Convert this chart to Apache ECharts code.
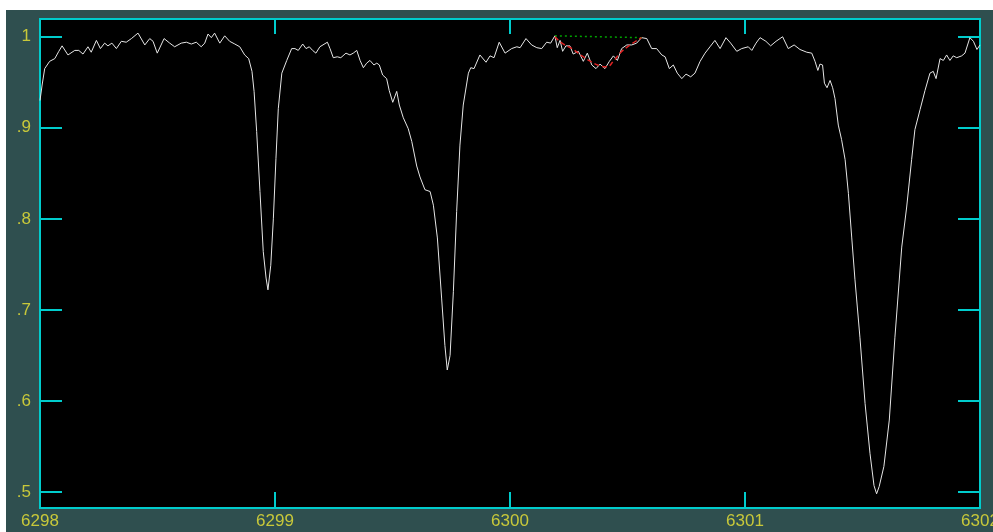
<!DOCTYPE html>
<html>
<head>
<meta charset="utf-8">
<script src="https://cdn.jsdelivr.net/npm/echarts@6/dist/echarts.min.js"></script>
<style>
  html, body { margin: 0; padding: 0; background: #ffffff; overflow: hidden; }
  #chart { position: absolute; left: 6px; top: 10px; width: 987px; height: 522px; }
</style>
</head>
<body>
<div id="chart"></div>
<script>
// spectrum (wavelength in A, normalised flux)
var wavelength = [
  6298.000, 6298.009, 6298.020, 6298.041, 6298.063, 6298.080, 6298.094, 6298.119, 6298.148, 6298.165,
  6298.183, 6298.204, 6298.218, 6298.240, 6298.257, 6298.275, 6298.289, 6298.306, 6298.325, 6298.346,
  6298.367, 6298.389, 6298.417, 6298.446, 6298.467, 6298.481, 6298.499, 6298.528, 6298.552, 6298.573,
  6298.601, 6298.623, 6298.644, 6298.665, 6298.686, 6298.701, 6298.715, 6298.729, 6298.743, 6298.765,
  6298.786, 6298.807, 6298.829, 6298.850, 6298.871, 6298.888, 6298.902, 6298.911, 6298.922, 6298.936,
  6298.950, 6298.962, 6298.970, 6298.982, 6298.993, 6299.004, 6299.014, 6299.029, 6299.050, 6299.071,
  6299.085, 6299.099, 6299.118, 6299.132, 6299.146, 6299.160, 6299.174, 6299.191, 6299.223, 6299.234,
  6299.248, 6299.265, 6299.280, 6299.302, 6299.319, 6299.333, 6299.348, 6299.362, 6299.376, 6299.390,
  6299.404, 6299.421, 6299.433, 6299.444, 6299.458, 6299.475, 6299.486, 6299.501, 6299.518, 6299.529,
  6299.546, 6299.567, 6299.582, 6299.603, 6299.617, 6299.638, 6299.660, 6299.674, 6299.691, 6299.709,
  6299.723, 6299.733, 6299.745, 6299.759, 6299.773, 6299.787, 6299.801, 6299.823, 6299.833, 6299.847,
  6299.872, 6299.898, 6299.915, 6299.932, 6299.954, 6299.979, 6300.007, 6300.029, 6300.043, 6300.068,
  6300.092, 6300.114, 6300.135, 6300.156, 6300.173, 6300.191, 6300.201, 6300.213, 6300.224, 6300.238,
  6300.255, 6300.269, 6300.291, 6300.312, 6300.329, 6300.348, 6300.366, 6300.383, 6300.404, 6300.423,
  6300.440, 6300.457, 6300.475, 6300.497, 6300.518, 6300.539, 6300.560, 6300.582, 6300.603, 6300.624,
  6300.646, 6300.660, 6300.678, 6300.695, 6300.712, 6300.731, 6300.749, 6300.769, 6300.787, 6300.809,
  6300.830, 6300.851, 6300.872, 6300.894, 6300.919, 6300.939, 6300.965, 6300.986, 6301.014, 6301.029,
  6301.047, 6301.064, 6301.089, 6301.109, 6301.132, 6301.160, 6301.184, 6301.209, 6301.234, 6301.263,
  6301.284, 6301.298, 6301.310, 6301.319, 6301.330, 6301.338, 6301.349, 6301.362, 6301.373, 6301.383,
  6301.397, 6301.411, 6301.426, 6301.440, 6301.454, 6301.468, 6301.489, 6301.511, 6301.532, 6301.549,
  6301.560, 6301.571, 6301.591, 6301.614, 6301.638, 6301.667, 6301.688, 6301.709, 6301.723, 6301.745,
  6301.766, 6301.787, 6301.801, 6301.813, 6301.830, 6301.844, 6301.858, 6301.872, 6301.886, 6301.901,
  6301.922, 6301.936, 6301.957, 6301.972, 6301.987, 6302.000
];
var flux = [
  0.930, 0.947, 0.965, 0.973, 0.976, 0.984, 0.990, 0.980, 0.985, 0.985,
  0.981, 0.989, 0.983, 0.996, 0.987, 0.993, 0.990, 0.993, 0.987, 0.995,
  0.994, 0.998, 1.004, 0.991, 0.998, 0.995, 0.982, 0.998, 0.993, 0.989,
  0.993, 0.994, 0.992, 0.994, 0.989, 0.993, 1.003, 0.999, 1.004, 0.993,
  1.001, 0.995, 0.992, 0.989, 0.980, 0.976, 0.962, 0.940, 0.896, 0.830,
  0.764, 0.735, 0.722, 0.749, 0.800, 0.866, 0.921, 0.960, 0.974, 0.987,
  0.987, 0.985, 0.992, 0.987, 0.989, 0.985, 0.982, 0.989, 0.994, 0.987,
  0.977, 0.978, 0.977, 0.982, 0.980, 0.982, 0.985, 0.974, 0.966, 0.971,
  0.974, 0.969, 0.971, 0.969, 0.958, 0.954, 0.941, 0.928, 0.940, 0.925,
  0.911, 0.899, 0.885, 0.858, 0.846, 0.832, 0.830, 0.815, 0.779, 0.713,
  0.661, 0.634, 0.650, 0.720, 0.808, 0.881, 0.925, 0.960, 0.966, 0.965,
  0.980, 0.972, 0.979, 0.977, 0.994, 0.982, 0.987, 0.989, 0.988, 0.998,
  0.991, 0.988, 0.987, 0.994, 0.993, 1.001, 0.988, 0.996, 0.984, 0.990,
  0.990, 0.981, 0.984, 0.973, 0.982, 0.969, 0.965, 0.970, 0.965, 0.973,
  0.979, 0.974, 0.987, 0.991, 0.991, 0.993, 0.999, 0.998, 0.987, 0.987,
  0.980, 0.978, 0.965, 0.969, 0.960, 0.954, 0.959, 0.956, 0.960, 0.973,
  0.982, 0.989, 0.996, 0.987, 0.999, 0.993, 0.984, 0.987, 0.989, 0.985,
  0.993, 0.999, 0.995, 0.990, 0.995, 1.000, 0.987, 0.991, 0.986, 0.983,
  0.982, 0.973, 0.963, 0.970, 0.969, 0.949, 0.944, 0.952, 0.944, 0.932,
  0.903, 0.887, 0.865, 0.828, 0.780, 0.733, 0.670, 0.597, 0.542, 0.507,
  0.498, 0.506, 0.528, 0.579, 0.670, 0.769, 0.813, 0.865, 0.898, 0.920,
  0.941, 0.960, 0.962, 0.954, 0.976, 0.974, 0.980, 0.974, 0.979, 0.977,
  0.979, 0.982, 0.999, 0.995, 0.986, 0.991
];

// fitted profile (red dashed) and continuum (green dotted) near 6300.3
var fitWave = [6300.191, 6300.221, 6300.264, 6300.306, 6300.349, 6300.383, 6300.409, 6300.440, 6300.468, 6300.511, 6300.560];
var fitFlux = [1.000, 0.993, 0.987, 0.979, 0.972, 0.968, 0.967, 0.973, 0.982, 0.991, 0.999];
var contWave = [6300.191, 6300.560];
var contFlux = [1.001, 0.999];

var xTicks = [6298, 6299, 6300, 6301, 6302];
var yTicks = [0.5, 0.6, 0.7, 0.8, 0.9, 1.0];

function zip(a, b) {
  var out = [];
  for (var i = 0; i < a.length; i++) out.push([a[i], b[i]]);
  return out;
}

var CYAN = '#00cccc';
var YELLOW = '#c8c83a';
var FONT = "'Liberation Sans', sans-serif";

var chart = echarts.init(document.getElementById('chart'));

var option = {
  backgroundColor: '#2f4f4f',
  animation: false,
  grid: {
    left: 34, top: 9, right: 13, bottom: 24,
    outerBoundsMode: 'none',
    containLabel: false,
    show: true,
    backgroundColor: '#000000',
    borderColor: CYAN,
    borderWidth: 2
  },
  xAxis: [
    {
      type: 'value', position: 'bottom',
      min: xTicks[0], max: xTicks[xTicks.length - 1], interval: 1,
      axisLine: { show: false },
      axisTick: { show: true, inside: true, length: 16, lineStyle: { color: CYAN, width: 2 } },
      axisLabel: {
        color: YELLOW, fontFamily: FONT, fontSize: 17, margin: 5,
        showMinLabel: true, showMaxLabel: true, hideOverlap: false,
        formatter: function (v) { return String(v); }
      },
      splitLine: { show: false }
    },
    {
      type: 'value', position: 'top',
      min: xTicks[0], max: xTicks[xTicks.length - 1], interval: 1,
      axisLine: { show: false },
      axisTick: { show: true, inside: true, length: 15, lineStyle: { color: CYAN, width: 2 } },
      axisLabel: { show: false },
      splitLine: { show: false }
    }
  ],
  yAxis: [
    {
      type: 'value', position: 'left',
      min: 0.4824, max: 1.0195,
      axisLine: { show: false },
      axisTick: { show: true, inside: true, length: 22, customValues: yTicks, lineStyle: { color: CYAN, width: 2 } },
      axisLabel: {
        color: YELLOW, fontFamily: FONT, fontSize: 17, margin: 9,
        customValues: yTicks,
        formatter: function (v) { return v >= 0.999 ? '1' : '.' + Math.round(v * 10); }
      },
      splitLine: { show: false }
    },
    {
      type: 'value', position: 'right',
      min: 0.4824, max: 1.0195,
      axisLine: { show: false },
      axisTick: { show: true, inside: true, length: 22, customValues: yTicks, lineStyle: { color: CYAN, width: 2 } },
      axisLabel: { show: false },
      splitLine: { show: false }
    }
  ],
  series: [
    {
      type: 'line', name: 'spectrum',
      data: zip(wavelength, flux),
      showSymbol: false,
      lineStyle: { color: '#e6e6e6', width: 1 }
    },
    {
      type: 'line', name: 'continuum',
      data: zip(contWave, contFlux),
      showSymbol: false,
      lineStyle: { color: '#00a000', width: 1.5, type: [2, 3] }
    },
    {
      type: 'line', name: 'fit',
      data: zip(fitWave, fitFlux),
      showSymbol: false,
      smooth: true,
      lineStyle: { color: '#dd2222', width: 1.5, type: [5, 3] }
    }
  ]
};

chart.setOption(option);
</script>
</body>
</html>
